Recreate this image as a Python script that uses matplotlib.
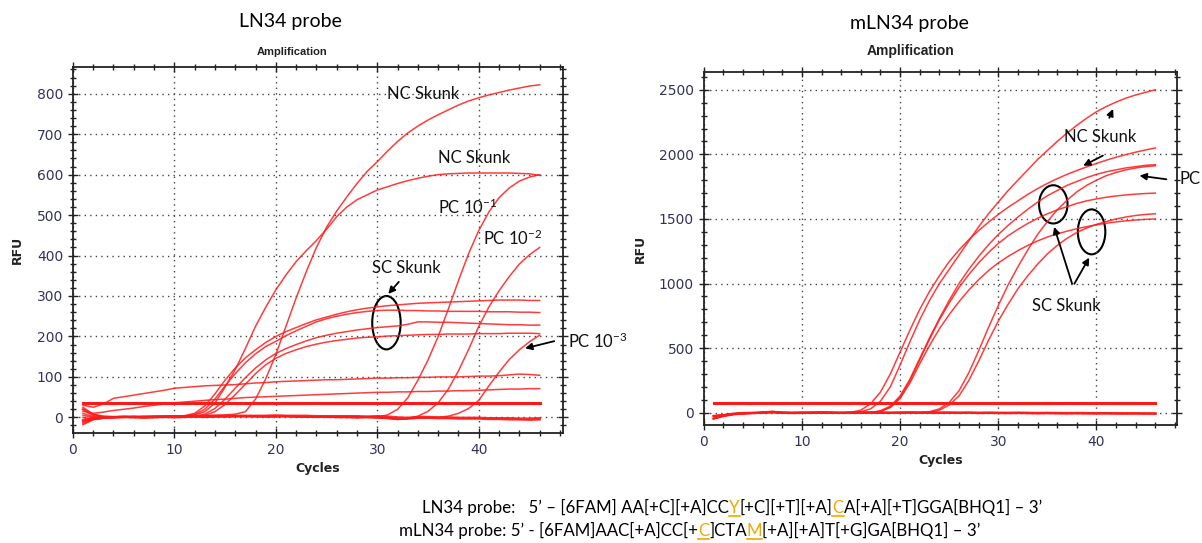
import matplotlib
matplotlib.use('Agg')
import matplotlib.pyplot as plt
from matplotlib.patches import Ellipse
from matplotlib.lines import Line2D
from matplotlib.ticker import MultipleLocator

plt.rcParams['font.family'] = ['Lato', 'DejaVu Sans']
plt.rcParams['mathtext.default'] = 'regular'

# 共通のサイクル番号 (1..46)
CYCLES = list(range(1, 47))

# ---- LN34 probe (左) ----
LN_NC_HIGH = [-15, -5, -2, 0, 1, 1, 2, 2, 2, 3, 3, 3, 4, 5, 6, 8, 14, 45, 95, 155,
              225, 295, 360, 420, 470, 510, 545, 578, 608, 632, 658, 682, 703, 720, 735, 748,
              760, 772, 782, 790, 797, 803, 809, 814, 819, 822]
LN_NC_LOW = [-10, -3, 0, 1, 1, 2, 2, 2, 3, 3, 4, 6, 14, 35, 75, 118, 170, 225, 272, 315,
             352, 385, 412, 437, 465, 496, 520, 538, 550, 562, 570, 578, 585, 591, 596, 600,
             602, 603, 604, 604, 604, 604, 604, 603, 602, 598]
LN_SC_A = [25, 8, 2, 1, 1, 1, 2, 2, 2, 3, 4, 10, 28, 58, 92, 122, 147, 167, 185, 200,
           212, 222, 232, 241, 248, 255, 261, 266, 270, 273, 276, 278, 280, 282, 283, 284,
           285, 286, 287, 288, 289, 290, 290, 290, 289, 289]
LN_SC_B = [10, 2, 0, 1, 1, 1, 2, 2, 2, 3, 3, 7, 20, 45, 78, 108, 135, 157, 175, 188,
           202, 214, 225, 236, 244, 250, 255, 259, 262, 264, 265, 265, 264, 264, 263, 263,
           262, 262, 262, 262, 261, 261, 261, 260, 260, 259]
LN_SC_C = [-5, -2, 0, 1, 1, 1, 1, 2, 2, 2, 2, 3, 8, 22, 45, 72, 98, 122, 142, 158,
           170, 180, 189, 197, 203, 208, 212, 216, 219, 222, 224, 226, 230, 236, 236, 235,
           235, 234, 233, 232, 231, 230, 229, 229, 228, 228]
LN_SC_D = [5, 0, 0, 1, 1, 1, 1, 2, 2, 2, 2, 2, 5, 14, 32, 56, 82, 108, 130, 146,
           158, 167, 175, 181, 186, 190, 193, 196, 198, 199, 201, 202, 203, 204, 205, 205,
           206, 206, 206, 207, 207, 207, 208, 208, 208, 207]
LN_PC_1 = [-18, -6, -2, -1, 0, 0, 1, 0, 1, 1, 1, 2, 2, 2, 3, 2, 3, 2, 2, 3,
           2, 2, 1, 2, 1, 1, 0, 1, 0, 1, 6, 20, 48, 92, 142, 200, 268, 338, 405, 462,
           508, 543, 567, 584, 594, 600]
LN_PC_2 = [0, -4, -2, 0, 1, 1, 0, 1, 1, 2, 1, 2, 2, 3, 2, 3, 3, 2, 2, 2,
           3, 2, 1, 1, 1, 0, 0, 1, 0, -1, -3, -5, -3, 3, 15, 36, 70, 115, 168, 225,
           273, 313, 348, 379, 402, 420]
LN_PC_3 = [-12, -4, -1, 0, 0, 1, 1, 1, 2, 1, 2, 2, 1, 2, 2, 2, 3, 2, 2, 2,
           2, 1, 1, 1, 0, 0, 0, -1, 0, -1, -2, -4, -3, -2, -1, 0, 3, 10, 22, 42,
           78, 112, 143, 167, 187, 203]
LN_DRIFT_1 = [30, 25, 33, 47, 51, 55, 59, 63, 67, 72, 74, 76, 78, 79, 80, 81, 83, 85, 86, 88,
              89, 90, 91, 92, 93, 93, 94, 95, 96, 97, 97, 98, 98, 99, 99, 100, 100, 100, 101, 102,
              102, 103, 105, 107, 106, 104]
LN_DRIFT_2 = [15, 10, 13, 17, 20, 23, 27, 30, 33, 36, 38, 40, 42, 44, 45, 47, 49, 50, 51, 52,
              53, 54, 55, 56, 57, 58, 59, 60, 61, 62, 62, 63, 63, 64, 64, 65, 65, 66, 66, 67,
              68, 69, 70, 70, 71, 71]
LN_BASE_1 = [-8, -3, -1, 0, 1, 0, -1, 0, 1, 0, 1, 2, 1, 2, 2, 3, 2, 3, 2, 2,
             3, 2, 2, 1, 2, 1, 1, 0, 1, 0, -1, -4, -3, -1, -1, -2, -2, -3, -3, -3,
             -4, -4, -5, -5, -6, -5]
LN_BASE_2 = [20, 6, 2, 1, 2, 2, 1, 2, 2, 3, 3, 3, 4, 4, 4, 4, 4, 4, 4, 5,
             4, 4, 4, 3, 3, 3, 3, 3, 2, 3, 2, 0, -1, 1, 1, 0, 0, -1, -1, -1,
             -2, -2, -2, -3, -3, -2]
LN_THRESHOLD = 35

# ---- mLN34 probe (右) ----
M_BASE_1 = [-45, -25, -12, -6, -3, 2, 8, 0, -2, -1, 0, 1, 0, -1, 0, 1, 0, 0, -1, 0,
            1, 0, -1, 0, 0, -1, 0, -2, -1, -2, -3, -2, -3, -4, -3, -4, -5, -4, -5, -6,
            -5, -6, -7, -6, -7, -8]
M_BASE_2 = [-25, -18, -8, -3, -1, 1, 3, 1, 0, 1, 1, 2, 1, 0, 1, 2, 1, 1, 0, 1,
            2, 1, 0, 1, 1, 0, 1, -1, 0, -1, -1, 0, -1, -2, -1, -2, -3, -2, -3, -3,
            -3, -4, -4, -4, -5, -5]
# 立ち上がり以降の値（開始サイクルから46まで）
M_NC_HIGH_START = 15
M_NC_HIGH = [2, 8, 30, 90, 200, 370, 550, 720, 870, 1000, 1110, 1220, 1330, 1440, 1540, 1630,
             1720, 1800, 1880, 1960, 2030, 2100, 2165, 2225, 2280, 2330, 2370, 2405, 2435,
             2460, 2480, 2500]
M_NC_LOW_START = 15
M_NC_LOW = [3, 20, 70, 160, 300, 470, 640, 800, 940, 1060, 1170, 1260, 1340, 1410, 1475, 1535,
            1590, 1640, 1690, 1735, 1775, 1812, 1845, 1875, 1903, 1930, 1955, 1978, 1998,
            2017, 2034, 2050]
M_SC_START = 17
M_SC_A = [2, 15, 50, 130, 260, 420, 580, 730, 870, 1000, 1110, 1210, 1300, 1380, 1450, 1515,
          1575, 1630, 1680, 1720, 1760, 1790, 1820, 1845, 1865, 1880, 1895, 1905, 1915, 1920]
M_SC_B = [2, 12, 45, 120, 250, 410, 570, 720, 850, 970, 1070, 1160, 1240, 1310, 1370, 1420,
          1465, 1505, 1540, 1570, 1595, 1620, 1640, 1655, 1668, 1678, 1686, 1692, 1697, 1700]
M_SC_C = [2, 10, 40, 110, 230, 380, 520, 650, 760, 860, 950, 1030, 1100, 1160, 1210, 1255,
          1295, 1330, 1360, 1385, 1405, 1425, 1440, 1455, 1467, 1477, 1485, 1492, 1497, 1500]
M_LATE_START = 22
M_PC = [2, 8, 30, 80, 170, 310, 480, 660, 830, 990, 1130, 1260, 1380, 1480, 1570, 1645,
        1710, 1760, 1800, 1835, 1860, 1880, 1895, 1905, 1912]
M_SC_D = [1, 5, 20, 60, 130, 250, 400, 560, 710, 840, 960, 1060, 1150, 1230, 1295, 1350,
          1395, 1430, 1458, 1480, 1500, 1515, 1527, 1535, 1540]
M_THRESHOLD = 77

RED = '#ff1a1a'
ORANGE = '#f0a800'
TICK_COLOR = '#33335a'
W, H = 1202, 543


def style_axes(ax, xlim, ylim, ymajor, yminor):
    """CFX風の枠・目盛り・点線グリッド"""
    ax.set_xlim(*xlim)
    ax.set_ylim(*ylim)
    ax.xaxis.set_major_locator(MultipleLocator(10))
    ax.xaxis.set_minor_locator(MultipleLocator(2))
    ax.yaxis.set_major_locator(MultipleLocator(ymajor))
    ax.yaxis.set_minor_locator(MultipleLocator(yminor))
    ax.tick_params(which='both', direction='inout', top=True, right=True,
                   labelsize=10, labelcolor=TICK_COLOR, width=1.0, color='#222222')
    ax.tick_params(which='major', length=7)
    ax.tick_params(which='minor', length=4)
    for lab in ax.get_xticklabels() + ax.get_yticklabels():
        lab.set_family('DejaVu Sans')
    for sp in ax.spines.values():
        sp.set_linewidth(1.3)
        sp.set_color('#222222')
    ax.grid(True, which='major', linestyle=(0, (1, 3)), color='#444444', linewidth=1.0)
    ax.set_xlabel('Cycles', fontsize=9, fontweight='bold', family='DejaVu Sans', color='#222222')
    ax.set_ylabel('RFU', fontsize=9, fontweight='bold', family='DejaVu Sans', color='#222222',
                  labelpad=9)


def arrow(ax, xy_from, xy_to):
    ax.annotate('', xy=xy_to, xytext=xy_from,
                arrowprops=dict(arrowstyle='-|>', color='black', lw=1.3, mutation_scale=10),
                annotation_clip=False)


fig = plt.figure(figsize=(W / 100, H / 100), dpi=100)

# ---- 左パネル ----
ax1 = fig.add_axes([0.0606, 0.2026, 0.4078, 0.674])
for series in [LN_NC_HIGH, LN_NC_LOW, LN_SC_A, LN_SC_B, LN_SC_C, LN_SC_D,
               LN_PC_1, LN_PC_2, LN_PC_3, LN_DRIFT_1, LN_DRIFT_2]:
    ax1.plot(CYCLES, series, color=RED, lw=1.1, alpha=0.85)
for series in [LN_BASE_1, LN_BASE_2]:
    ax1.plot(CYCLES, series, color=RED, lw=1.7, alpha=0.9)
ax1.plot([CYCLES[0], CYCLES[-1]], [LN_THRESHOLD, LN_THRESHOLD], color=RED, lw=2.2)
style_axes(ax1, (0, 48.3), (-38.6, 866), 100, 20)

ann_kw = dict(fontsize=12, ha='center', va='center', color='#111111')
ax1.text(34.5, 800, 'NC Skunk', **ann_kw)
ax1.text(39.5, 641, 'NC Skunk', **ann_kw)
ax1.text(38.9, 520, 'PC 10$^{-1}$', **ann_kw)
ax1.text(43.4, 442, 'PC 10$^{-2}$', **ann_kw)
ax1.text(32.9, 368, 'SC Skunk', **ann_kw)
ax1.text(48.8, 188, 'PC 10$^{-3}$', fontsize=12, ha='left', va='center',
         color='#111111', clip_on=False)
ax1.add_patch(Ellipse((30.9, 234), 2.8, 132, fill=False, ec='black', lw=1.5))
arrow(ax1, (32.3, 340), (30.9, 300))
arrow(ax1, (47.7, 190), (44.3, 169))

# ---- 右パネル ----
ax2 = fig.add_axes([0.5855, 0.2173, 0.3937, 0.650])


def full_series(base, start, tail):
    return base[:start - 1] + tail


for base, start, tail in [(M_BASE_1, M_NC_HIGH_START, M_NC_HIGH),
                          (M_BASE_2, M_NC_LOW_START, M_NC_LOW),
                          (M_BASE_1, M_SC_START, M_SC_A),
                          (M_BASE_2, M_SC_START, M_SC_B),
                          (M_BASE_1, M_SC_START, M_SC_C),
                          (M_BASE_2, M_LATE_START, M_PC),
                          (M_BASE_1, M_LATE_START, M_SC_D)]:
    ax2.plot(CYCLES, full_series(base, start, tail), color=RED, lw=1.1, alpha=0.85)
for series in [M_BASE_1, M_BASE_2]:
    ax2.plot(CYCLES, series, color=RED, lw=1.7, alpha=0.9)
ax2.plot([CYCLES[0], CYCLES[-1]], [M_THRESHOLD, M_THRESHOLD], color=RED, lw=2.2)
style_axes(ax2, (0, 48.2), (-95, 2637), 500, 100)

ax2.text(40.4, 2134, 'NC Skunk', **ann_kw)
ax2.text(36.9, 825, 'SC Skunk', **ann_kw)
ax2.text(48.5, 1812, 'PC', fontsize=12, ha='left', va='center', color='#111111', clip_on=False)
ax2.add_patch(Ellipse((35.6, 1613), 2.9, 296, fill=False, ec='black', lw=1.5))
ax2.add_patch(Ellipse((39.5, 1400), 2.8, 348, fill=False, ec='black', lw=1.5))
arrow(ax2, (41.2, 2263), (41.8, 2371))
arrow(ax2, (40.9, 2000), (38.4, 1902))
arrow(ax2, (47.4, 1804), (44.1, 1838))
arrow(ax2, (37.6, 979), (35.6, 1459))
arrow(ax2, (37.6, 979), (39.4, 1219))

# ---- タイトル ----
fig.text(290 / W, 1 - 22 / H, 'LN34 probe', fontsize=14, ha='center', va='center')
fig.text(292 / W, 1 - 52 / H, 'Amplification', fontsize=8, fontweight='bold',
         family='Liberation Sans', ha='center', va='center', color='#222222')
fig.text(909 / W, 1 - 23 / H, 'mLN34 probe', fontsize=14, ha='center', va='center')
fig.text(911 / W, 1 - 51 / H, 'Amplification', fontsize=10, fontweight='bold',
         family='Liberation Sans', ha='center', va='center', color='#222222')

# ---- プローブ配列（色付き・下線付き文字）----
SEQ_LN34 = [('LN34 probe:   5\u2019 \u2013 [6FAM] AA[+C][+A]CC', False), ('Y', True),
            ('[+C][+T][+A]', False), ('C', True), ('A[+A][+T]GGA[BHQ1] \u2013 3\u2019', False)]
SEQ_MLN34 = [('mLN34 probe: 5\u2019 - [6FAM]AAC[+A]CC[+', False), ('C', True), (']CTA', False),
             ('M', True), ('[+A][+A]T[+G]GA[BHQ1] \u2013 3\u2019', False)]

renderer = fig.canvas.get_renderer()


def rich_line(x_px, y_px, parts, size):
    x = x_px
    y = H - y_px
    for txt, hi in parts:
        t = fig.text(x / W, y / H, txt, fontsize=size, ha='left', va='baseline',
                     color=ORANGE if hi else 'black')
        bb = t.get_window_extent(renderer)
        if hi:
            fig.add_artist(Line2D([bb.x0 / W, bb.x1 / W], [(y - 3) / H, (y - 3) / H],
                                  color=ORANGE, lw=1.2, transform=fig.transFigure))
        x += bb.width


rich_line(422, 513, SEQ_LN34, 12.2)
rich_line(399, 536, SEQ_MLN34, 12.2)

fig.savefig('out.png', dpi=100)
